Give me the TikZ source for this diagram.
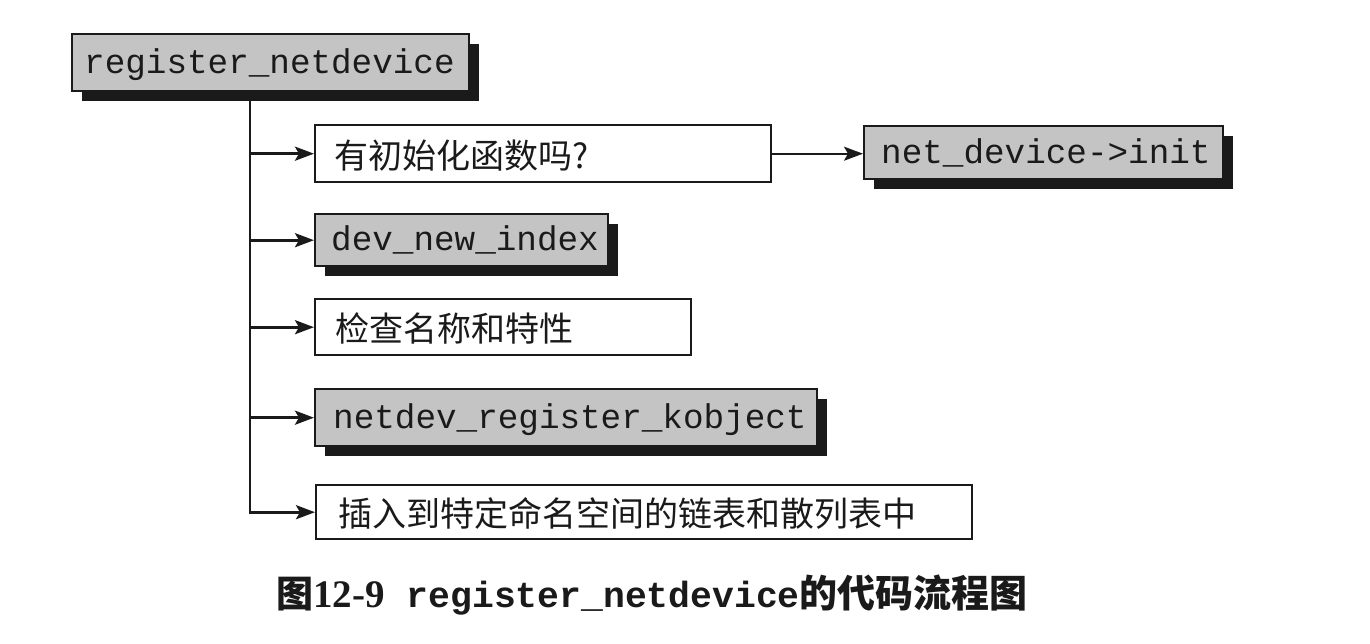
\documentclass[tikz,border=0pt]{standalone}
\usepackage{fontspec}
\setmainfont{Liberation Serif}
\setmonofont{Liberation Mono}
\newfontfamily\cjk{Noto Sans CJK SC}
\usetikzlibrary{arrows.meta,shadows}
\definecolor{boxgray}{HTML}{C4C4C4}
\definecolor{ink}{HTML}{1A1A1A}
\newcommand\lbx[2]{\makebox[#1][l]{#2}}
\begin{document}
\begin{tikzpicture}[x=1pt,y=1pt,
  boxbase/.style={draw=ink, line width=2.4pt, rectangle, anchor=north west, inner ysep=0pt, text=ink},
  gbox/.style={boxbase, fill=boxgray, drop shadow={shadow xshift=10pt, shadow yshift=-10pt, fill=ink, opacity=1}},
  wbox/.style={boxbase, fill=white},
  monotxt/.style={font=\fontsize{34.3}{40}\selectfont\ttfamily, text height=27pt, text depth=6pt},
  hantxt/.style={font=\fontsize{34}{40}\selectfont\cjk, text height=32pt, text depth=3pt},
  conn/.style={draw=ink, line width=2.8pt},
  arr/.style={conn, -{Stealth[length=19pt,width=14pt,inset=4pt]}},
]
\useasboundingbox (0,0) rectangle (1370,-644);
\fill[white] (0,0) rectangle (1370,-644);

\node[gbox,monotxt,inner xsep=12pt,minimum height=57pt] (A) at (71,-33) {\lbx{373pt}{register\_netdevice}};
\node[wbox,hantxt,inner xsep=19pt,minimum height=57pt] (B) at (314,-124) {\lbx{418pt}{有初始化函数吗?}};
\node[gbox,monotxt,inner xsep=17pt,minimum height=53pt] (C) at (863,-125) {\lbx{325pt}{net\_device->init}};
\node[gbox,monotxt,inner xsep=16pt,minimum height=52pt] (D) at (314,-213) {\lbx{261pt}{dev\_new\_index}};
\node[wbox,hantxt,inner xsep=20pt,minimum height=56pt] (E) at (314,-298) {\lbx{336pt}{检查名称和特性}};
\node[gbox,monotxt,inner xsep=18pt,minimum height=57pt] (F) at (314,-388) {\lbx{466pt}{netdev\_register\_kobject}};
\node[wbox,hantxt,inner xsep=22pt,minimum height=54pt] (G) at (315,-484) {\lbx{612pt}{插入到特定命名空间的链表和散列表中}};

\coordinate (tx) at (250,0);
\draw[arr] (A.south -| tx) |- (G.west);
\draw[arr] (tx |- B.west) -- (B.west);
\draw[arr] (tx |- D.west) -- (D.west);
\draw[arr] (tx |- E.west) -- (E.west);
\draw[arr] (tx |- F.west) -- (F.west);
\draw[arr, line width=2pt] (B.east) -- (B.east -| C.west);

\node[anchor=base west, inner sep=0pt, text=ink] (cap) at (276,-607)
  {{\cjk\bfseries\fontsize{37}{40}\selectfont 图}{\bfseries\fontsize{39}{40}\selectfont 12-9}\hspace{22pt}{\ttfamily\bfseries\fontsize{36.4}{40}\selectfont register\_netdevice}{\cjk\bfseries\fontsize{38}{40}\selectfont 的代码流程图}};
\end{tikzpicture}
\end{document}
